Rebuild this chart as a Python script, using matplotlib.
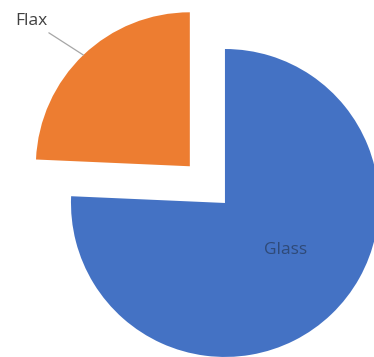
"""Fibre composition pie chart: glass vs flax."""

import numpy as np
import matplotlib.pyplot as plt

# slice data
fibres = ["Glass", "Flax"]
shares = [75.7, 24.3]
colors = ["#4472C4", "#ED7D31"]
explode = [0.0, 0.33]

plt.rcParams["font.family"] = ["Open Sans", "DejaVu Sans"]

fig = plt.figure(figsize=(3.74, 3.57), dpi=100)
ax = fig.add_axes([0, 0, 1, 1])

wedges, _ = ax.pie(
    shares,
    colors=colors,
    explode=explode,
    startangle=90,
    counterclock=False,
    radius=1.0,
    wedgeprops={"linewidth": 0},
)

# place the pie so the glass corner sits right of centre
ax.set_xlim(-1.461, 0.968)
ax.set_ylim(-1.0, 1.318)
ax.set_aspect("equal", adjustable="box")
ax.axis("off")

# Flax label with leader line to the middle of its arc
flax = wedges[1]
mid = np.deg2rad((flax.theta1 + flax.theta2) / 2)
cx, cy = flax.center
tip = (cx + flax.r * np.cos(mid), cy + flax.r * np.sin(mid))
ax.annotate(
    fibres[1],
    xy=tip,
    xytext=(-1.26, 1.18),
    ha="center",
    va="center",
    fontsize=12.5,
    color="#404040",
    arrowprops=dict(arrowstyle="-", color="#a6a6a6", lw=0.9,
                    shrinkA=1, shrinkB=0),
)

# Glass label inside its slice
ax.text(0.395, -0.305, fibres[0], ha="center", va="center",
        fontsize=12.5, color="#2f4a78")

fig.savefig("out.png", dpi=100, facecolor="white")
